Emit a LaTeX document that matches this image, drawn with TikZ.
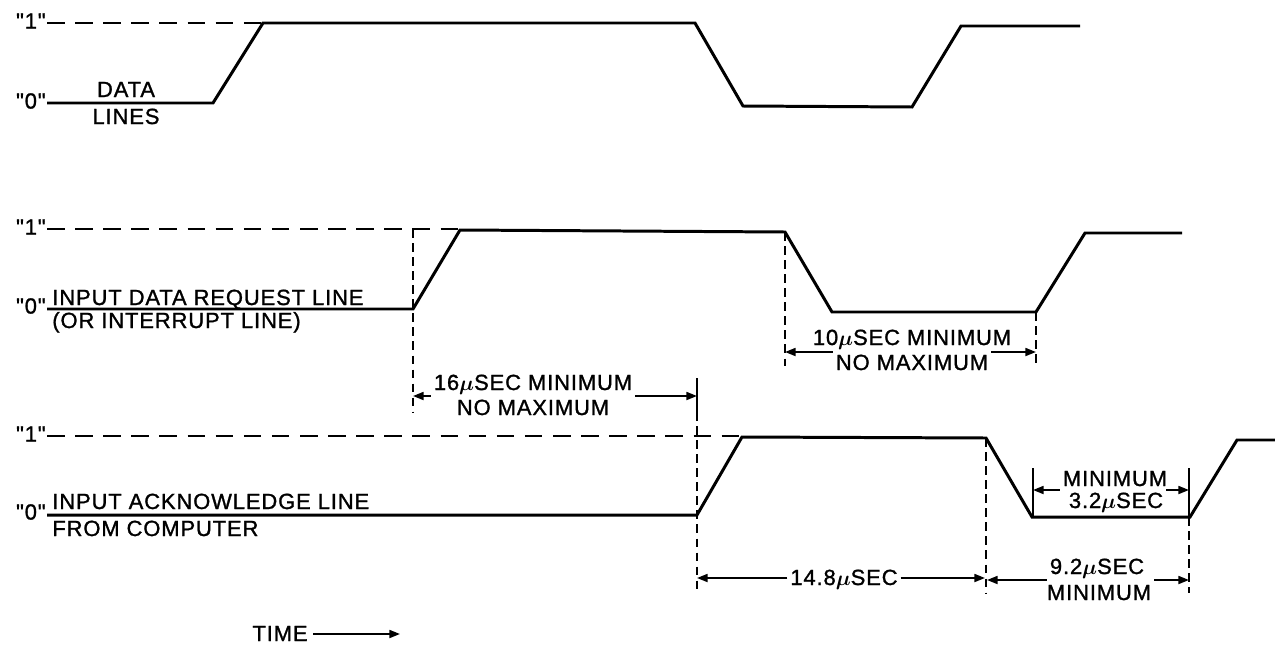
\documentclass[tikz,border=0pt]{standalone}
\usepackage{fontspec}
\usepackage{bm}
\newfontfamily\lettering{Liberation Sans}[LetterSpace=4, FakeBold=1.2]
\usetikzlibrary{arrows.meta}

\newcommand{\mus}{$\bm{\mu}$}

\tikzset{
  wave/.style={line width=1.7pt, line join=miter},
  level/.style={line width=1.1pt, dash pattern=on 10pt off 6pt},
  guide/.style={line width=0.9pt, dash pattern=on 5pt off 3pt},
  tickmark/.style={line width=1.1pt},
  dim/.style={line width=1.1pt, ->},
  lbl/.style={inner sep=0pt, font=\lettering\fontsize{12.5}{14}\selectfont},
  dimlbl/.style={lbl, inner sep=1.5pt, anchor=base},
}

\begin{document}
\begin{tikzpicture}[x=0.02cm, y=-0.02cm, >={Triangle[length=6pt,width=4.5pt]}]
        \useasboundingbox (0,0) rectangle (1275,646);
        \node[lbl, anchor=east] (one1) at (46,21) {"1"};
        \node[lbl, anchor=east] (zero1) at (46,101) {"0"};
        \draw[level] (47,23) -- (263,23);
        \draw[wave] (47,103) -- (213,103) -- (263,23) -- (695,23) -- (743,106)
          -- (912,107) -- (961,26) -- (1080,26);
        \node[lbl, anchor=base] (data) at (126,97) {DATA};
        \node[lbl, anchor=base] (lines) at (126,124) {LINES};

        \node[lbl, anchor=east] (one2) at (46,227) {"1"};
        \node[lbl, anchor=east] (zero2) at (46,306) {"0"};
        \draw[level] (47,229) -- (460,229);
        \draw[wave] (47,309) -- (413,309) -- (460,230) -- (785,232) -- (832,312)
          -- (1036,312) -- (1085,233) -- (1182,233);
        \node[lbl, anchor=base west] (req) at (52,305) {INPUT DATA REQUEST LINE};
        \node[lbl, anchor=base west] (irq) at (52,328) {(OR INTERRUPT LINE)};

        \node[lbl, anchor=east] (one3) at (46,434) {"1"};
        \node[lbl, anchor=east] (zero3) at (46,512) {"0"};
        \draw[level] (47,436) -- (742,436);
        \draw[wave] (47,515) -- (697,515) -- (742,437) -- (986,438) -- (1032,517)
          -- (1190,517) -- (1237,440) -- (1275,440);
        \node[lbl, anchor=base west] (ack) at (52,509) {INPUT ACKNOWLEDGE LINE};
        \node[lbl, anchor=base west] (cpu) at (52,536) {FROM COMPUTER};

        \draw[guide] (413,229) -- (413,412);
        \draw[tickmark] (697,378) -- (697,412);
        \draw[guide] (697,412) -- (697,593);
        \draw[guide] (785,232) -- (785,366);
        \draw[guide] (1036,312) -- (1036,366);
        \draw[guide] (986,438) -- (986,593);
        \draw[guide] (1189,517) -- (1189,593);
        \draw[tickmark] (1033,468) -- (1033,516);
        \draw[tickmark] (1189,468) -- (1189,516);

        \coordinate (a16l) at (413,396);
        \coordinate (a16r) at (697,396);
        \node[dimlbl] (t16a) at (533,390) {16\mus SEC MINIMUM};
        \node[dimlbl] (t16b) at (533,415) {NO MAXIMUM};
        \draw[dim] (t16a.west |- a16l) -- (a16l);
        \draw[dim] (t16a.east |- a16r) -- (a16r);

        \coordinate (a10l) at (785,352);
        \coordinate (a10r) at (1036,352);
        \node[dimlbl] (t10a) at (912,345) {10\mus SEC MINIMUM};
        \node[dimlbl] (t10b) at (912,370) {NO MAXIMUM};
        \draw[dim] (t10b.west |- a10l) -- (a10l);
        \draw[dim] (t10b.east |- a10r) -- (a10r);

        \coordinate (a148l) at (697,578);
        \coordinate (a148r) at (985,578);
        \node[dimlbl] (t148) at (844,585) {14.8\mus SEC};
        \draw[dim] (t148.west |- a148l) -- (a148l);
        \draw[dim] (t148.east |- a148r) -- (a148r);

        \coordinate (a92l) at (987,580);
        \coordinate (a92r) at (1189,580);
        \node[dimlbl] (t92a) at (1097,574) {9.2\mus SEC};
        \node[dimlbl] (t92b) at (1099,600) {MINIMUM};
        \draw[dim] (t92a.west |- a92l) -- (a92l);
        \draw[dim] (t92b.east |- a92r) -- (a92r);

        \coordinate (a32l) at (1033,490);
        \coordinate (a32r) at (1189,490);
        \node[dimlbl] (t32a) at (1115,486) {MINIMUM};
        \node[dimlbl] (t32b) at (1116,508) {3.2\mus SEC};
        \draw[dim] (t32a.west |- a32l) -- (a32l);
        \draw[dim] (t32b.east |- a32r) -- (a32r);

        \coordinate (tend) at (400,634);
        \node[lbl, anchor=base] (time) at (280,641) {TIME};
        \draw[dim] ([xshift=3pt]time.east |- tend) -- (tend);
\end{tikzpicture}
\end{document}
